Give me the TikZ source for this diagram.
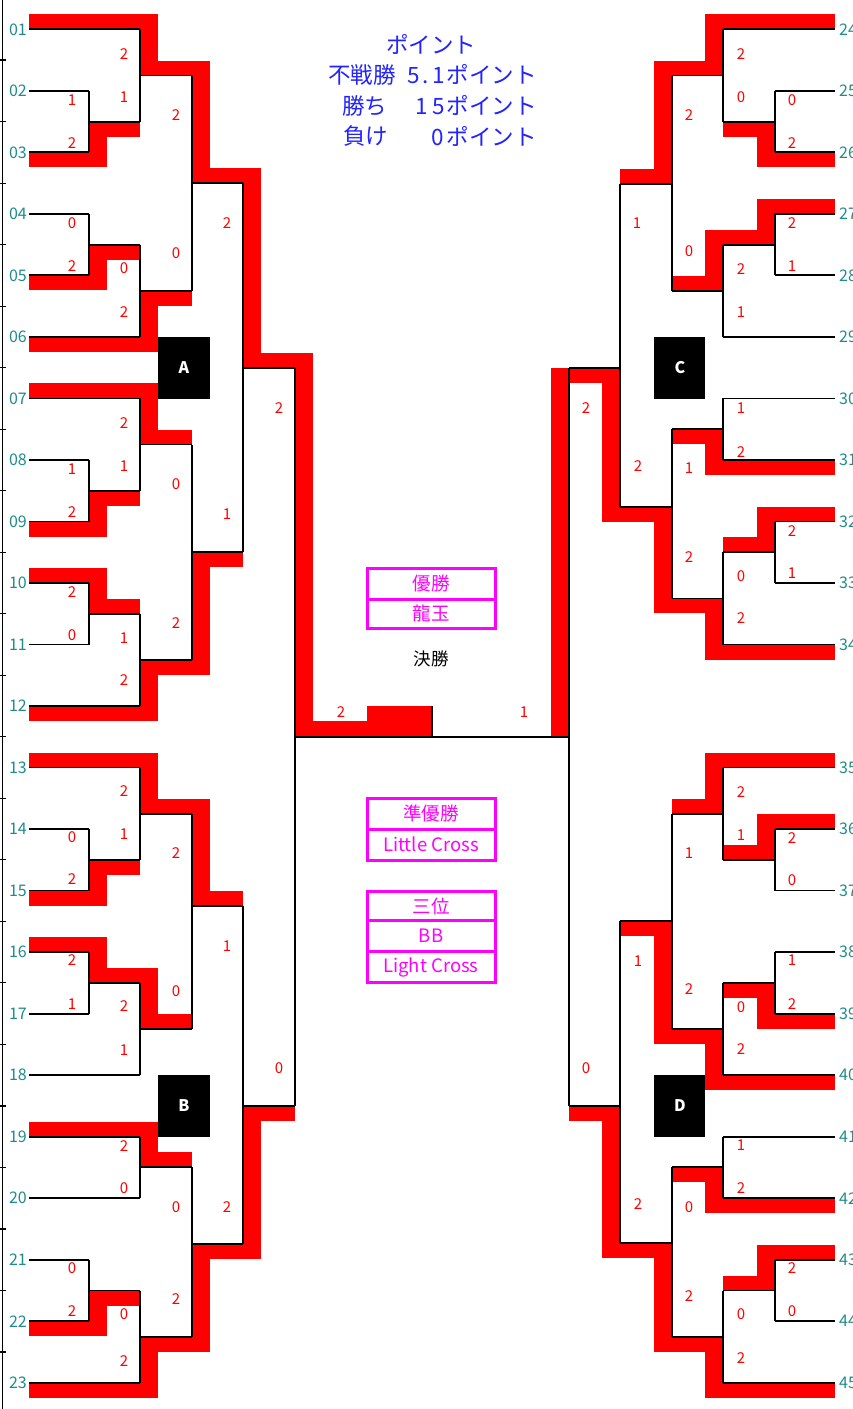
\documentclass[tikz,border=0pt]{standalone}
\usepackage{fontspec}
\setmainfont{Noto Sans CJK JP}
\definecolor{labteal}{RGB}{30,140,140}
\definecolor{ttlblue}{RGB}{35,35,255}
\definecolor{mgt}{RGB}{255,0,255}
\newcommand\rb[4]{\fill[red] (#1,#2) rectangle (#3,#4);}
\newcommand\brk[5]{\draw[bl] (#1,#2) -- (#1,#3); \draw[bl] (#1,#4) -- (#5,#4);}
\newcommand\dg[2]{\makebox[#1pt][c]{#2}}
\tikzset{
  bl/.style={line width=1.8pt, black},
  lab/.style={text=labteal, font=\fontsize{16}{16}\selectfont, inner sep=0pt},
  sc/.style={text=red, font=\fontsize{15}{15}\selectfont, inner sep=0pt},
  ttl/.style={text=ttlblue, font=\fontsize{22.5}{22.5}\selectfont, inner sep=0pt},
  mg/.style={text=mgt, font=\fontsize{18.5}{18.5}\selectfont, inner sep=0pt},
  mgbox/.style={draw=mgt, line width=3pt},
  grp/.style={text=white, font=\bfseries\fontsize{16}{16}\selectfont, inner sep=0pt},
}
\begin{document}
\begin{tikzpicture}[x=1pt,y=-1pt]
\useasboundingbox (0,0) rectangle (853,1409);
\fill[white] (0,0) rectangle (853,1409);

% ---------------- red winner bands: left ----------------
\rb{29}{152.3}{107}{167.3}\rb{89}{121.6}{107}{167.3}\rb{89}{121.6}{140}{136.6}
\rb{29}{14.3}{158}{29.3}\rb{140}{14.3}{158}{75.5}\rb{140}{60.5}{210}{75.5}
\rb{192}{60.5}{210}{183.1}\rb{192}{168.1}{261}{183.1}\rb{243}{168.1}{261}{367.7}
\rb{243}{352.7}{313}{367.7}\rb{295}{352.7}{313}{736}\rb{295}{721}{432}{736}
\rb{367}{706}{432}{736}
\rb{29}{275.4}{107}{290.4}\rb{89}{244.6}{107}{290.4}\rb{89}{244.6}{140}{259.6}
\rb{29}{336.9}{158}{351.9}\rb{140}{290.8}{158}{351.9}\rb{140}{290.8}{192}{305.8}
\rb{29}{521.5}{107}{536.5}\rb{89}{490.7}{107}{536.5}\rb{89}{490.7}{140}{505.7}
\rb{29}{383.4}{158}{398.4}\rb{140}{383.4}{158}{444.5}\rb{140}{429.5}{192}{444.5}
\rb{29}{568}{107}{583}\rb{89}{568}{107}{613.8}\rb{89}{598.8}{140}{613.8}
\rb{29}{706}{158}{721}\rb{140}{659.9}{158}{721}\rb{140}{659.9}{210}{674.9}
\rb{192}{552.2}{210}{674.9}\rb{192}{552.2}{243}{567.2}
\rb{29}{890.6}{107}{905.6}\rb{89}{859.8}{107}{905.6}\rb{89}{859.8}{140}{874.8}
\rb{29}{752.5}{158}{767.5}\rb{140}{752.5}{158}{813.7}\rb{140}{798.7}{210}{813.7}
\rb{192}{798.7}{210}{905.7}\rb{192}{890.7}{243}{905.7}
\rb{29}{937.1}{107}{952.1}\rb{89}{937.1}{107}{982.9}\rb{89}{967.9}{158}{982.9}
\rb{140}{967.9}{158}{1029}\rb{140}{1014}{192}{1029}
\rb{29}{1121.7}{158}{1136.7}\rb{140}{1121.7}{158}{1167}\rb{140}{1152}{192}{1167}
\rb{29}{1321.2}{107}{1336.2}\rb{89}{1290.5}{107}{1336.2}\rb{89}{1290.5}{140}{1305.5}
\rb{29}{1382.7}{158}{1397.7}\rb{140}{1336.6}{158}{1397.7}\rb{140}{1336.6}{210}{1351.6}
\rb{192}{1244}{210}{1351.6}\rb{192}{1244}{261}{1259}\rb{243}{1105.7}{261}{1259}
\rb{243}{1105.7}{295}{1120.7}

% ---------------- red winner bands: right ----------------
\rb{757}{152.3}{835}{167.3}\rb{757}{121.6}{775}{167.3}\rb{723}{121.6}{775}{136.6}
\rb{705}{14.3}{835}{29.3}\rb{705}{14.3}{723}{75.5}\rb{654}{60.5}{723}{75.5}
\rb{654}{60.5}{672}{183.7}\rb{620}{168.7}{672}{183.7}
\rb{757}{198.9}{835}{213.9}\rb{757}{198.9}{775}{244.6}\rb{705}{229.6}{775}{244.6}
\rb{705}{229.6}{723}{290.8}\rb{672}{275.8}{723}{290.8}
\rb{705}{459.9}{835}{474.9}\rb{705}{429.2}{723}{474.9}\rb{672}{429.2}{723}{444.2}
\rb{757}{506.5}{835}{521.5}\rb{757}{506.5}{775}{552.2}\rb{723}{537.2}{775}{552.2}
\rb{705}{644.5}{835}{659.5}\rb{705}{598.4}{723}{659.5}\rb{654}{598.4}{723}{613.4}
\rb{654}{506.7}{672}{613.4}\rb{602}{506.7}{672}{521.7}\rb{602}{368.3}{620}{521.7}
\rb{551}{368.3}{620}{383.3}\rb{551}{368.3}{569}{736}
\rb{757}{814.1}{835}{829.1}\rb{757}{814.1}{775}{859.8}\rb{723}{844.8}{775}{859.8}
\rb{705}{752.5}{835}{767.5}\rb{705}{752.5}{723}{813.7}\rb{672}{798.7}{723}{813.7}
\rb{757}{1013.6}{835}{1028.6}\rb{757}{982.9}{775}{1028.6}\rb{723}{982.9}{775}{997.9}
\rb{705}{1075.1}{835}{1090.1}\rb{705}{1029}{723}{1090.1}\rb{654}{1029}{723}{1044}
\rb{654}{920.7}{672}{1044}\rb{620}{920.7}{672}{935.7}
\rb{705}{1198.2}{835}{1213.2}\rb{705}{1167}{723}{1213.2}\rb{672}{1167}{723}{1182}
\rb{757}{1244.7}{835}{1259.7}\rb{757}{1244.7}{775}{1290.5}\rb{723}{1275.5}{775}{1290.5}
\rb{705}{1382.7}{835}{1397.7}\rb{705}{1336.6}{723}{1397.7}\rb{654}{1336.6}{723}{1351.6}
\rb{654}{1243.3}{672}{1351.6}\rb{602}{1243.3}{672}{1258.3}\rb{602}{1105.7}{620}{1258.3}
\rb{569}{1105.7}{620}{1120.7}

% ---------------- left edge line and ticks ----------------
\draw[line width=1.2pt] (2.7,0) -- (2.7,1409);
\foreach \i in {1,...,22} \draw[line width=1.2pt] (0,{29.3+(\i-1)*61.52+30.76}) -- (6,{29.3+(\i-1)*61.52+30.76});

% ---------------- black bracket lines: left ----------------
\foreach \r/\e in {1/140,2/89,3/89,4/89,5/89,6/140,7/140,8/89,9/89,10/89,11/89,12/140,13/140,14/89,15/89,16/89,17/89,18/140,19/140,20/140,21/89,22/89,23/140}
  \draw[bl] (29,{29.3+(\r-1)*61.52}) -- (\e,{29.3+(\r-1)*61.52});
\brk{89}{90.8}{152.3}{121.6}{140}\brk{89}{213.9}{275.4}{244.6}{140}
\brk{89}{459.9}{521.5}{490.7}{140}\brk{89}{583}{644.5}{613.8}{140}
\brk{89}{829.1}{890.6}{859.8}{140}\brk{89}{952.1}{1013.6}{982.9}{140}
\brk{89}{1259.7}{1321.2}{1290.5}{140}
\brk{140}{29.3}{121.6}{75.5}{192}\brk{140}{244.6}{336.9}{290.8}{192}
\brk{140}{398.4}{490.7}{444.5}{192}\brk{140}{613.8}{706}{659.9}{192}
\brk{140}{767.5}{859.8}{813.7}{192}\brk{140}{982.9}{1075.1}{1029}{192}
\brk{140}{1136.7}{1198.2}{1167}{192}\brk{140}{1290.5}{1382.7}{1336.6}{192}
\brk{192}{75.5}{290.8}{183.1}{243}\brk{192}{444.5}{659.9}{552.2}{243}
\brk{192}{813.7}{1029}{905.7}{243}\brk{192}{1167}{1336.6}{1244}{243}
\brk{243}{183.1}{552.2}{367.7}{295}\brk{243}{905.7}{1244}{1105.7}{295}
\draw[bl] (295,367.7) -- (295,1105.7);
\draw[bl] (295,737.3) -- (569,737.3);
\draw[bl] (432,706) -- (432,737.3);

% ---------------- black bracket lines: right ----------------
\foreach \r/\e in {1/723,2/775,3/775,4/775,5/775,6/723,7/723,8/723,9/775,10/775,11/723,13/723,14/775,15/775,16/775,17/775,18/723,19/723,20/723,21/775,22/775,23/723}
  \draw[bl] (\e,{29.3+(\r-1)*61.52}) -- (835,{29.3+(\r-1)*61.52});
\brk{775}{90.8}{152.3}{121.6}{723}\brk{775}{213.9}{275.4}{244.6}{723}
\brk{775}{521.5}{583}{552.2}{723}\brk{775}{829.1}{890.6}{859.8}{723}
\brk{775}{952.1}{1013.6}{982.9}{723}\brk{775}{1259.7}{1321.2}{1290.5}{723}
\brk{723}{29.3}{121.6}{75.5}{672}\brk{723}{244.6}{336.9}{290.8}{672}
\brk{723}{398.4}{459.9}{429.2}{672}\brk{723}{552.2}{644.5}{598.4}{672}
\brk{723}{767.5}{859.8}{813.7}{672}\brk{723}{982.9}{1075.1}{1029}{672}
\brk{723}{1136.7}{1198.2}{1167}{672}\brk{723}{1290.5}{1382.7}{1336.6}{672}
\brk{672}{75.5}{290.8}{183.7}{620}\brk{672}{429.2}{598.4}{506.7}{620}
\brk{672}{813.7}{1029}{920.7}{620}\brk{672}{1167}{1336.6}{1243.3}{620}
\brk{620}{183.7}{506.7}{368.3}{569}\brk{620}{920.7}{1243.3}{1105.7}{569}
\draw[bl] (569,368.3) -- (569,1105.7);

% ---------------- entry labels ----------------
\foreach \n/\r in {01/1,02/2,03/3,04/4,05/5,06/6,07/7,08/8,09/9,10/10,11/11,12/12,13/13,14/14,15/15,16/16,17/17,18/18,19/19,20/20,21/21,22/22,23/23}
  \node[lab, anchor=east] (L\n) at (27,{29.3+(\r-1)*61.52}) {\n};
\foreach \n/\r in {24/1,25/2,26/3,27/4,28/5,29/6,30/7,31/8,32/9,33/10,34/11,35/13,36/14,37/15,38/16,39/17,40/18,41/19,42/20,43/21,44/22,45/23}
  \node[lab, anchor=west] (R\n) at (839,{29.3+(\r-1)*61.52}) {\n};

% ---------------- scores ----------------
\foreach \x/\y/\s [count=\k] in {124/54/2,124/97/1,72/100/1,72/143/2,176/115/2,72/223/0,72/266/2,124/268/0,124/312/2,176/253/0,227/223/2,
 124/423/2,72/469/1,124/466/1,72/512/2,176/484/0,227/514/1,72/592/2,72/635/0,124/638/1,176/623/2,124/680/2,279/408/2,
 124/791/2,72/837/0,124/834/1,72/879/2,176/853/2,72/960/2,72/1004/1,124/1006/2,176/991/0,124/1050/1,227/946/1,279/1068/0,
 124/1146/2,124/1188/0,176/1207/0,227/1207/2,72/1268/0,72/1311/2,124/1314/0,176/1299/2,124/1361/2,
 741/54/2,741/97/0,792/100/0,792/143/2,689/115/2,637/223/1,689/251/0,792/223/2,792/266/1,741/269/2,741/312/1,
 586/408/2,638/466/2,741/408/1,741/452/2,689/468/1,689/557/2,792/531/2,792/573/1,741/576/0,741/618/2,
 741/792/2,741/835/1,792/838/2,792/880/0,689/853/1,638/961/1,689/989/2,792/960/1,792/1004/2,741/1007/0,741/1049/2,586/1068/0,
 741/1145/1,741/1188/2,689/1207/0,638/1204/2,792/1268/2,792/1311/0,741/1314/0,689/1296/2,741/1358/2,
 341/712/2,524/712/1}
  \node[sc] (s\k) at (\x,\y) {\s};

% ---------------- group boxes ----------------
\fill[black] (158.3,336.7) rectangle (210,399);
\node[grp] (gA) at (184,368) {A};
\fill[black] (158.3,1075) rectangle (210,1136.7);
\node[grp] (gB) at (184,1106) {B};
\fill[black] (654,336.7) rectangle (705,399);
\node[grp] (gC) at (680,368) {C};
\fill[black] (654,1075) rectangle (705,1136.7);
\node[grp] (gD) at (680,1106) {D};

% ---------------- title ----------------
\node[ttl] (t1) at (431,44) {ポイント};
\node[ttl, anchor=west] (t2a) at (328,74.5) {不戦勝};
\node[ttl, anchor=east] (t2b) at (537,74.5) {\dg{15}{5}\dg{10}{.}\dg{16}{1}ポイント};
\node[ttl, anchor=west] (t3a) at (342,105.5) {勝ち};
\node[ttl, anchor=east] (t3b) at (537,105.5) {\dg{16.5}{1}\dg{16.5}{5}ポイント};
\node[ttl, anchor=west] (t4a) at (343,136) {負け};
\node[ttl, anchor=east] (t4b) at (537,136) {\dg{18}{0}ポイント};

% ---------------- prize boxes ----------------
\draw[mgbox] (367.3,568.3) rectangle (495.7,628.3);
\draw[mgbox] (367.3,599) -- (495.7,599);
\node[mg] (p1) at (431,583.5) {優勝};
\node[mg] (p2) at (431,613.5) {龍玉};
\node[text=black, font=\fontsize{17.5}{17.5}\selectfont, inner sep=0pt] (fin) at (431,659) {決勝};

\draw[mgbox] (367.3,798.3) rectangle (495.7,860);
\draw[mgbox] (367.3,829) -- (495.7,829);
\node[mg] (p3) at (431,813.5) {準優勝};
\node[mg] (p4) at (431,844.5) {Little Cross};

\draw[mgbox] (367.3,891) rectangle (495.7,982.7);
\draw[mgbox] (367.3,920.7) -- (495.7,920.7);
\draw[mgbox] (367.3,951.7) -- (495.7,951.7);
\node[mg] (p5) at (431,906) {三位};
\node[mg] (p6) at (431,936) {BB};
\node[mg] (p7) at (431,967) {Light Cross};
\end{tikzpicture}
\end{document}
